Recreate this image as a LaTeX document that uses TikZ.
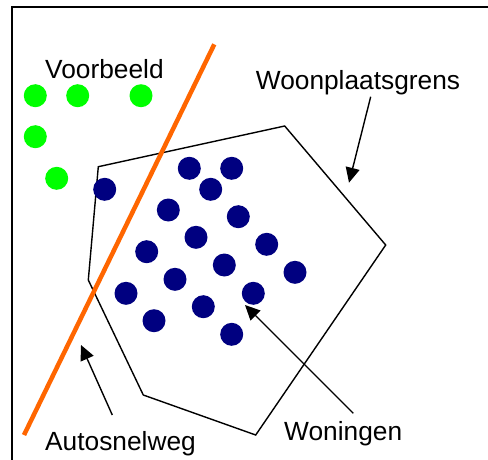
\documentclass[tikz,border=0pt]{standalone}
\usepackage{fontspec}
\setmainfont{Liberation Sans}
\usetikzlibrary{arrows.meta}
\definecolor{dotgreen}{RGB}{0,255,0}
\definecolor{dotnavy}{RGB}{0,0,128}
\definecolor{road}{RGB}{255,102,0}
\begin{document}
\begin{tikzpicture}[x=1pt,y=-1pt,
  lbl/.style={inner sep=0pt,anchor=base west,font=\fontsize{26.3}{30}\selectfont},
  gdot/.style={circle,fill=dotgreen,minimum size=23pt,inner sep=0pt},
  bdot/.style={circle,fill=dotnavy,minimum size=23pt,inner sep=0pt},
  pointer/.style={line width=1.4pt,-{Triangle[length=15pt,width=14pt]}}]
\useasboundingbox (0,0) rectangle (488,459);
\fill[white] (0,0) rectangle (488,459);
% frame
\draw[line width=2pt] (11.5,460) -- (11.5,7) -- (489,7);
% green dots
\node[gdot] (g1) at (35.3,95.7) {};
\node[gdot] (g2) at (77.7,95.7) {};
\node[gdot] (g3) at (141,95.7) {};
\node[gdot] (g4) at (35.3,136.7) {};
\node[gdot] (g5) at (56.7,178.3) {};
% polygon
\draw[line width=1.4pt,line join=miter] (98.3,166.7) -- (284.7,126) -- (385.7,245) -- (255.7,435) -- (143.3,395) -- (88.3,280) -- cycle;
% blue dots
\node[bdot] (b1) at (104.7,189.3) {};
\node[bdot] (b2) at (189.3,168.3) {};
\node[bdot] (b3) at (231.7,168.3) {};
\node[bdot] (b4) at (210.7,189.3) {};
\node[bdot] (b5) at (168.3,210) {};
\node[bdot] (b6) at (238.3,216.7) {};
\node[bdot] (b7) at (196,237.3) {};
\node[bdot] (b8) at (266.7,244.3) {};
\node[bdot] (b9) at (146.7,251.7) {};
\node[bdot] (b10) at (224.3,265) {};
\node[bdot] (b11) at (295,272.3) {};
\node[bdot] (b12) at (175,279.3) {};
\node[bdot] (b13) at (126,293.3) {};
\node[bdot] (b14) at (253.3,293.3) {};
\node[bdot] (b15) at (203.3,306.7) {};
\node[bdot] (b16) at (154,320.7) {};
\node[bdot] (b17) at (231.7,334.3) {};
% road
\coordinate (r1) at (214.3,44.3);
\coordinate (r2) at (24,435);
\draw[road,line width=4.5pt] (r1) -- (r2);
% labels
\node[lbl] (voor) at (45,78.3) {Voorbeeld};
\node[lbl] (woon) at (255.7,89.3) {Woonplaatsgrens};
\node[lbl] (auto) at (45,450.7) {Autosnelweg};
\node[lbl] (wonin) at (284,440.7) {Woningen};
% arrows
\coordinate (a1s) at (370.7,96.7);
\coordinate (a1e) at (349,182.7);
\coordinate (a2s) at (112.3,415);
\coordinate (a2e) at (81,345);
\coordinate (a3s) at (353.3,413.3);
\coordinate (a3e) at (245,305);
\draw[pointer] (a1s) -- (a1e);
\draw[pointer] (a2s) -- (a2e);
\draw[pointer] (a3s) -- (a3e);
\end{tikzpicture}
\end{document}
